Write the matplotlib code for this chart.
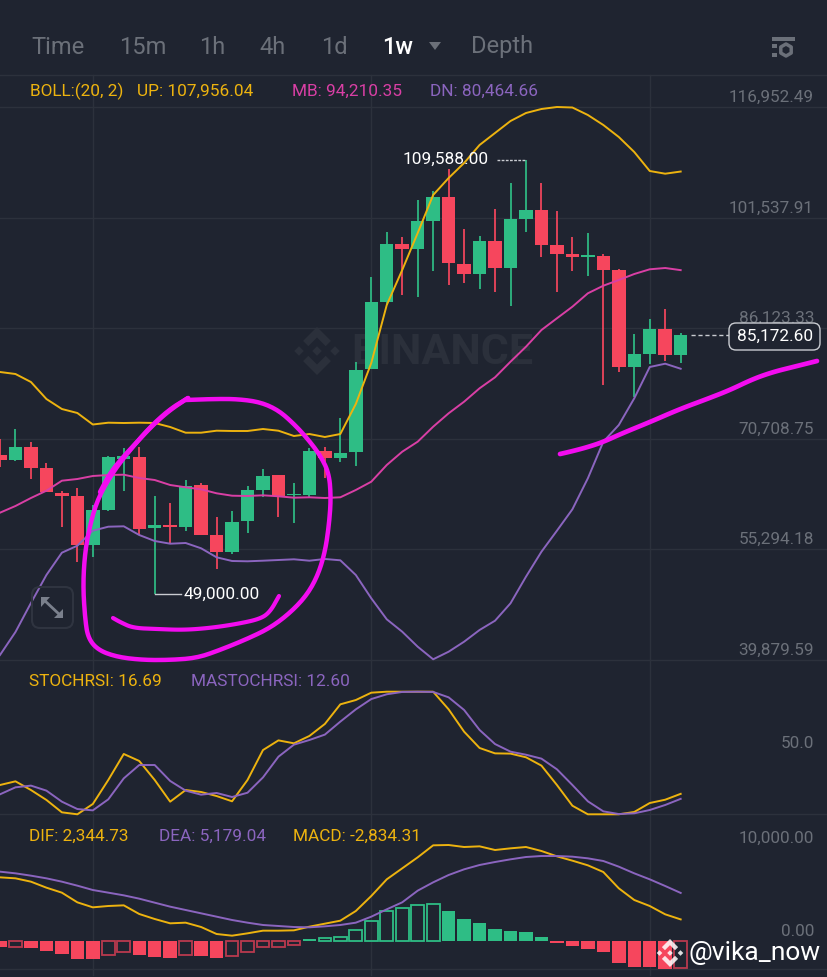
import numpy as np
import matplotlib
matplotlib.use('Agg')
import matplotlib.pyplot as plt
from matplotlib.patches import FancyBboxPatch, Polygon

BG = '#1f2430'
GRID = '#2c313c'
GREEN = '#2ebd85'
RED = '#f6465d'
RED_DARK = '#b93a4e'
YELLOW = '#edb30f'
PINK = '#d93fa5'
PURPLE = '#8b65bf'
AXIS_TEXT = '#6b7079'
MAGENTA = '#f30cf0'

# weekly candles
opens = [68440, 67740, 69600, 66630, 63190, 62730, 55900, 60770, 67880, 68200, 58220, 58680, 58450, 64220, 57290,
         54880, 59200, 63560, 65610, 62820, 62870, 69000, 68070, 68820, 80390, 89810, 97850, 97160, 101060, 104410,
         95110, 93710, 98310, 94550, 101300, 102590, 97670, 96420, 96080, 96220, 94230, 80710, 82560, 86000, 82380]
closes = [67810, 69600, 66670, 63240, 62770, 55900, 60770, 68120, 68340, 58170, 58730, 58400, 64160, 57330, 54920,
          59100, 63560, 65560, 62770, 63050, 69000, 68020, 68720, 80290, 89810, 97850, 97160, 101060, 104410, 95160,
          93710, 98310, 94550, 101300, 102590, 97720, 96460, 96080, 96320, 94270, 80710, 82520, 86000, 82380, 85170]
highs = [70670, 72070, 70250, 67330, 63420, 63840, 61470, 68340, 69420, 69600, 62730, 61790, 64960, 64500, 59760,
         60590, 64120, 66450, 65610, 64500, 69380, 69510, 73560, 81450, 93210, 99530, 98790, 104030, 105200, 108270,
         99900, 98930, 102690, 106320, 109588, 106400, 102460, 98790, 99430, 96460, 94410, 85310, 87400, 88750, 85490]
lows = [66770, 67600, 65100, 63240, 58450, 53530, 54260, 60680, 63460, 57290, 49000, 56130, 57850, 57290, 52590,
        54640, 57530, 62630, 59840, 59000, 62630, 65280, 67510, 66910, 80390, 89350, 90750, 90510, 94130, 92180,
        92460, 91540, 91200, 89250, 99570, 96080, 91200, 94090, 93390, 78240, 80010, 76570, 81130, 81590, 81220]

boll_up = [80011, 79732, 78617, 76247, 74853, 74296, 72693, 72944, 72902, 72944, 72902, 72344, 71550, 71550, 71828,
           71787, 71787, 72065, 71828, 71090, 71368, 70950, 71368, 75550, 81266, 89351, 94230, 99388, 104685, 107055,
           109146, 111655, 113328, 115001, 116116, 116673, 116952, 116882, 115837, 114443, 112770, 110679, 108031,
           107654, 107956]
boll_mb = [60398, 61332, 62447, 63464, 64858, 65095, 65514, 65653, 65695, 65235, 64956, 64259, 63938, 63660, 63102,
           62767, 62726, 62823, 62684, 62489, 62544, 62447, 62544, 63562, 64719, 67047, 68901, 70295, 72386, 74254,
           75871, 77739, 79272, 81447, 83538, 85866, 87497, 89114, 90982, 92041, 92836, 93672, 94328, 94509, 94210]
boll_dn = [40561, 43767, 47810, 51713, 54822, 55797, 57888, 58446, 58502, 57289, 56453, 56076, 56174, 55435, 54180,
           53665, 53623, 53706, 53804, 53902, 53706, 53943, 53762, 51713, 48465, 45538, 43809, 41718, 39962, 41021,
           42415, 44046, 45342, 47768, 51476, 54961, 57888, 60872, 65193, 70295, 72623, 76345, 80708, 81168, 80465]

stoch = [23.9, 26.9, 19.8, 11.7, 1.6, 0, 8.4, 28, 49.2, 43.5, 28, 10.3, 19.8, 18.2, 14.9, 10.6, 28, 52.4, 60.3, 57.9,
         63.9, 73.7, 89.7, 93.2, 99.2, 100, 100, 100, 100, 85.6, 67.4, 54.1, 49.7, 49.5, 46.5, 39.7, 23.9, 7, 0, 0, 0,
         1.9, 9.2, 11.9, 16.69]
mastoch = [16.3, 22, 23.4, 19.3, 10.3, 4.3, 3.2, 12.2, 29.3, 40.2, 40.2, 27.2, 19.3, 16, 17.4, 14.1, 17.6, 30.1, 47,
           56.8, 60.6, 65, 75.6, 85.6, 94, 97.9, 99.8, 100, 99.8, 95.4, 85.1, 68.8, 57.3, 51.1, 48.6, 45.4, 36.7, 23.9,
           10.6, 2.4, 0.2, 0.8, 3.5, 7.6, 12.6]

dif = [6849, 6742, 6385, 5743, 5208, 4173, 3637, 3780, 3851, 2924, 2388, 1924, 1995, 1531, 782, 603, 853, 1139, 1139,
       1175, 1567, 1888, 2210, 3245, 4851, 6635, 7813, 8991, 10276, 10311, 10097, 10168, 9776, 9954, 10097, 9669, 9098,
       8634, 8134, 7420, 5672, 4422, 3780, 2888, 2345]
dea = [7456, 7278, 7028, 6742, 6385, 5957, 5493, 5208, 4922, 4565, 4137, 3709, 3352, 2995, 2638, 2281, 1995, 1746, 1639,
       1531, 1496, 1603, 1746, 1995, 2638, 3423, 4173, 5422, 6314, 7099, 7706, 8170, 8491, 8777, 9026, 9133, 9133, 9062,
       8884, 8598, 7991, 7278, 6635, 5921, 5179]
macd = [-570, -570, -714, -1071, -1356, -1927, -1927, -1463, -1178, -1499, -1677, -1749, -1463, -1535, -1749, -1535,
        -1106, -642, -571, -428, 250, 357, 464, 1249, 2177, 3212, 3569, 3890, 3997, 3212, 2391, 1999, 1285, 1142, 999,
        464, -214, -500, -785, -1178, -2284, -2784, -2784, -2998, -2834]
macd_hollow = [1, 7, 8, 12, 15, 16, 17, 18, 19, 21, 22, 23, 24, 25, 26, 27, 28, 44]

price_ticks = [116952.49, 101537.91, 86123.33, 70708.75, 55294.18, 39879.59]
grid_candles = [6, 24, 42]
intervals = ['Time', '15m', '1h', '4h', '1d', '1w', 'Depth']
interval_x = [31, 119, 199, 259, 321, 382, 471]

# hand drawn marks on top of the screenshot, in pixels
stroke_x = [100, 110, 123, 137, 153, 170, 188]
stroke_y = [492, 473, 457, 442, 425, 410, 398]
circle_x = [188, 170, 150, 130, 113, 98, 90, 85, 83, 85, 88, 98, 117, 143, 170, 197, 220,
            247, 270, 290, 307, 318, 325, 329, 331, 329, 320, 307, 293, 278, 260, 237, 213, 186]
circle_y = [398, 409, 427, 450, 472, 498, 525, 552, 585, 618, 638, 650, 657, 660, 660,
            658, 650, 639, 628, 613, 595, 575, 552, 525, 498, 473, 455, 438, 423, 410, 402, 399, 399, 400]
smile_x = [113, 120, 133, 157, 183, 210, 237, 260, 270, 279]
smile_y = [618, 622, 628, 629, 630, 628, 624, 619, 612, 596]
trend_x = [560, 573, 588, 603, 623, 650, 680, 707, 730, 753, 773, 793, 817]
trend_y = [454, 451, 447, 442, 433, 422, 409, 399, 390, 379, 372, 367, 361]

W, H = 828, 977
STEP = 15.47
FONT = 'Roboto'
plt.rcParams['font.family'] = FONT


def pane(top, bottom, ymin, ymax):
    a = fig.add_axes([0, 1 - bottom / H, 1, (bottom - top) / H])
    a.set_xlim(0, W / STEP)
    a.set_ylim(ymin, ymax)
    a.axis('off')
    a.patch.set_alpha(0)
    return a


def smooth(x, y, n=3):
    # chaikin corner cutting so the pen strokes do not look like polylines
    p = np.column_stack([x, y]).astype(float)
    for _ in range(n):
        q = np.empty((len(p) * 2, 2))
        q[0::2] = 0.75 * p + 0.25 * np.roll(p, -1, axis=0)
        q[1::2] = 0.25 * p + 0.75 * np.roll(p, -1, axis=0)
        p = np.vstack([p[:1], q[:-2], p[-1:]])
    return p[:, 0], p[:, 1]


def logo(a, cx, cy, r, color, alpha=1.0, z=2):
    shapes = [
        [(0, .2), (.2, 0), (0, -.2), (-.2, 0)],
        [(-.75, .2), (-.55, 0), (-.75, -.2), (-.95, 0)],
        [(.75, .2), (.95, 0), (.75, -.2), (.55, 0)],
        [(0, 1), (.58, .42), (.36, .2), (0, .56), (-.36, .2), (-.58, .42)],
        [(0, -1), (.58, -.42), (.36, -.2), (0, -.56), (-.36, -.2), (-.58, -.42)],
    ]
    for s in shapes:
        pts = [(cx + r * u, cy - r * v) for u, v in s]
        a.add_patch(Polygon(pts, closed=True, fc=color, ec='none', alpha=alpha, zorder=z))


fig = plt.figure(figsize=(W / 100, H / 100), dpi=100, facecolor=BG)

# overlay in pixels for the app chrome, added first so panes sit on top
back = fig.add_axes([0, 0, 1, 1])
back.set_xlim(0, W)
back.set_ylim(H, 0)
back.axis('off')

ax = pane(75, 670, 38470, 121413)
ax2 = pane(670, 820, -4.65, 117.7)
ax3 = pane(820, 977, -3822, 12988)

# grid
back.plot([0, W], [75, 75], color=GRID, lw=1)
for c in grid_candles:
    back.plot([c * STEP, c * STEP], [75, 975], color=GRID, lw=1)
for t in price_ticks:
    ax.axhline(t, color=GRID, lw=1, zorder=1)
ax2.axhline(0, color=GRID, lw=1, zorder=1)
ax3.axhline(-2970, color=GRID, lw=1, zorder=1)

# watermark
logo(back, 317, 351, 24, '#2b303b')
back.text(351, 352, 'BINANCE', color='#2b303b', fontsize=31, fontweight='bold', va='center', ha='left')

# candles
idx = np.arange(len(opens))
for i in idx:
    col = GREEN if closes[i] >= opens[i] else RED
    ax.plot([i, i], [lows[i], highs[i]], color=col, lw=1.25, zorder=3, solid_capstyle='butt')
    ax.bar(i, abs(closes[i] - opens[i]), bottom=min(opens[i], closes[i]), width=0.87, color=col, zorder=4)

ax.plot(idx, boll_up, color=YELLOW, lw=1.4, zorder=5)
ax.plot(idx, boll_mb, color=PINK, lw=1.4, zorder=5)
ax.plot(idx, boll_dn, color=PURPLE, lw=1.4, zorder=5)

# price scale
for t in price_ticks:
    ax.annotate(f'{t:,.2f}', xy=(1, t), xycoords=('axes fraction', 'data'), xytext=(-10, 7), textcoords='offset points',
                ha='right', va='center', color=AXIS_TEXT, fontsize=12.3, zorder=6)

# extreme labels
ax.plot([10, 10 + 26 / STEP], [49000, 49000], color='#c9ccd1', lw=1, zorder=6)
ax.text(10 + 29 / STEP, 49000, '49,000.00', color='white', fontsize=12.4, va='center', ha='left', zorder=7)
ax.plot([34 - 29 / STEP, 34], [109588, 109588], color='#c9ccd1', lw=1, ls=(0, (2, 1)), zorder=6)
ax.text(34 - 37 / STEP, 109588, '109,588.00', color='white', fontsize=12.4, va='center', ha='right', zorder=7)

# last price tag
ax.plot([44 + 10 / STEP, 729 / STEP], [closes[-1], closes[-1]], color='#c9ccd1', lw=1, ls=(0, (3, 2)), zorder=6)
back_top = pane(0, H, H, 0)
back_top.set_xlim(0, W)
back_top.add_patch(FancyBboxPatch((729, 323), 91, 27, boxstyle='round,pad=0,rounding_size=7', fc=BG, ec='#c9ccd1',
                                  lw=1, zorder=8))
back_top.text(775.5, 336, '85,172.60', color='white', fontsize=12.4, ha='center', va='center', zorder=9)

# stoch rsi
ax2.plot(idx, stoch, color=YELLOW, lw=1.4, zorder=3)
ax2.plot(idx, mastoch, color=PURPLE, lw=1.4, zorder=4)
ax2.annotate('50.0', xy=(1, 50), xycoords=('axes fraction', 'data'), xytext=(-10, 7), textcoords='offset points',
             ha='right', va='center', color=AXIS_TEXT, fontsize=12.3)

# macd
for i in idx:
    col = GREEN if macd[i] >= 0 else RED
    if i in macd_hollow:
        col = GREEN if macd[i] >= 0 else RED_DARK
        ax3.bar(i, macd[i], width=0.82, fc='none', ec=col, lw=1.3, zorder=3)
    else:
        ax3.bar(i, macd[i], width=0.87, color=col, zorder=3)
ax3.plot(idx, dif, color=YELLOW, lw=1.4, zorder=4)
ax3.plot(idx, dea, color=PURPLE, lw=1.4, zorder=4)
for t, lab in [(10000, '10,000.00'), (0, '0.00')]:
    ax3.annotate(lab, xy=(1, t), xycoords=('axes fraction', 'data'), xytext=(-10, 7), textcoords='offset points',
                 ha='right', va='center', color=AXIS_TEXT, fontsize=12.3)

# toolbar
for lab, x in zip(intervals, interval_x):
    active = lab == '1w'
    back_top.text(x, 47, lab, color='white' if active else AXIS_TEXT, fontsize=17, ha='left', va='center',
                  fontweight='medium' if active else 'normal')
back_top.add_patch(Polygon([(429, 42), (441, 42), (435, 50)], fc=AXIS_TEXT, ec='none'))
for y0, x0, x1 in [(37, 772, 795), (44, 772, 777), (53, 772, 777)]:
    back_top.fill([x0, x1, x1, x0], [y0, y0, y0 + 3.5, y0 + 3.5], color=AXIS_TEXT, lw=0)
back_top.scatter([786], [50], s=75, marker='h', fc='none', ec=AXIS_TEXT, lw=2.5)

# indicator legends
legend_rows = [
    (91, [(30, 'BOLL:(20, 2)', YELLOW), (137, 'UP: 107,956.04', YELLOW), (292, 'MB: 94,210.35', PINK),
          (430, 'DN: 80,464.66', PURPLE)]),
    (681, [(29, 'STOCHRSI: 16.69', YELLOW), (191, 'MASTOCHRSI: 12.60', PURPLE)]),
    (836, [(29, 'DIF: 2,344.73', YELLOW), (159, 'DEA: 5,179.04', PURPLE), (293, 'MACD: -2,834.31', YELLOW)]),
]
for y, items in legend_rows:
    for x, lab, col in items:
        back_top.text(x, y, lab, color=col, fontsize=12.4, ha='left', va='center')

# expand button
back_top.add_patch(FancyBboxPatch((32, 587), 41, 41, boxstyle='round,pad=0,rounding_size=8', fc='none', ec='#2f3440',
                                  lw=1.5, zorder=3))
back_top.add_patch(Polygon([(41, 597), (50, 597), (41, 607)], fc='#7a808c', ec='none', zorder=4))
back_top.add_patch(Polygon([(63, 618), (54, 618), (63, 609)], fc='#7a808c', ec='none', zorder=4))
back_top.plot([44, 60], [600, 615], color='#7a808c', lw=2, zorder=4)

# pen strokes
for xs, ys, lw in [(stroke_x, stroke_y, 3.2), (circle_x, circle_y, 3.2), (smile_x, smile_y, 3.0),
                   (trend_x, trend_y, 3.4)]:
    sx, sy = smooth(xs, ys)
    back_top.plot(sx, sy, color=MAGENTA, lw=lw, solid_capstyle='round', solid_joinstyle='round', zorder=10)

# bottom right watermark
logo(back_top, 670, 953, 14, 'white', alpha=0.85, z=11)
back_top.text(689, 953, '@vika_now', color='white', fontsize=19, ha='left', va='center', zorder=11)

fig.savefig('out.png', dpi=100, facecolor=BG)
